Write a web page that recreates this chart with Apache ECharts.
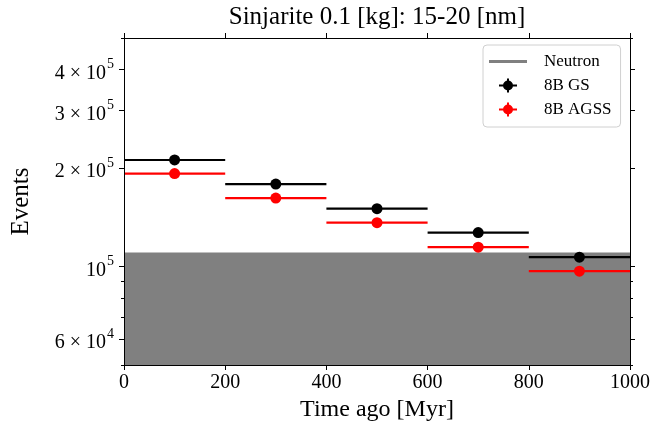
<!DOCTYPE html>
<html><head><meta charset="utf-8">
<script src="https://cdn.jsdelivr.net/npm/echarts@6/dist/echarts.min.js"></script>
<style>html,body{margin:0;padding:0;background:#fff}#c{width:668px;height:432px}</style>
</head><body><div id="c"></div>
<script>
// ---- data ----
const titleText = 'Sinjarite 0.1 [kg]: 15-20 [nm]';
const binCenters = [100, 300, 500, 700, 900];
const binHalfWidth = 100;
const gsEvents = [211800, 178700, 150300, 127000, 106800];
const agssEvents = [192500, 162000, 136200, 114600, 96800];
const neutronLevel = 110400;
const xRange = [0, 1000];
const xTickStep = 200;
const yRange = [50000, 500000];
const yLabelTicks = [60000, 100000, 200000, 300000, 400000];
const yMinorTicks = [50000, 70000, 80000, 90000, 500000];

const FONT = 'Liberation Serif';

function supLabel(v) {
  const e = Math.floor(Math.log10(v) + 1e-9);
  const m = Math.round(v / Math.pow(10, e));
  return (m === 1 ? '{a|10}' : '{a|' + m + ' \u00d7 10}') + '{b|' + e + '}';
}

function makeRenderer(color) {
  return function (params, api) {
    const x = api.value(0), y = api.value(1);
    const p0 = api.coord([x - binHalfWidth, y]);
    const p1 = api.coord([x + binHalfWidth, y]);
    const c = api.coord([x, y]);
    return {
      type: 'group',
      children: [
        { type: 'line', shape: { x1: p0[0], y1: p0[1], x2: p1[0], y2: p1[1] }, style: { stroke: color, lineWidth: 2.2 } },
        { type: 'circle', shape: { cx: c[0], cy: c[1], r: 5.5 }, style: { fill: color } }
      ]
    };
  };
}

const neutronIcon = 'path://M0,0L0,0M50,16L50,16M0,6.5L38,6.5L38,9.5L0,9.5Z';
const ebIcon = 'path://M0,0L0,0M50,16L50,16M10,7L28,7L28,9L10,9ZM18,1L20,1L20,15L18,15ZM24,8A5,5,0,1,1,14,8A5,5,0,1,1,24,8Z';

const axisLineStyle = { show: true, lineStyle: { color: '#000', width: 1 } };

const chart = echarts.init(document.getElementById('c'), null, { renderer: 'canvas' });
chart.setOption({
  animation: false,
  backgroundColor: '#fff',
  grid: { left: 124, right: 38, top: 37, bottom: 67, containLabel: false },
  legend: {
    orient: 'vertical', left: 483, top: 45,
    backgroundColor: '#fff', borderColor: '#d0d0d0', borderWidth: 1, borderRadius: 4,
    padding: [8, 9, 9, 6], itemGap: 7, itemWidth: 50, itemHeight: 16,
    textStyle: { fontFamily: FONT, fontSize: 17, color: '#000' },
    data: [
      { name: 'Neutron', icon: neutronIcon },
      { name: '8B GS', icon: ebIcon },
      { name: '8B AGSS', icon: ebIcon }
    ]
  },
  xAxis: [
    {
      type: 'value', position: 'bottom', min: xRange[0], max: xRange[1], interval: xTickStep,
      axisLine: axisLineStyle, splitLine: { show: false }, z: 10,
      axisTick: { show: true, inside: false, length: 5, lineStyle: { color: '#000' } },
      axisLabel: { fontFamily: FONT, fontSize: 20, color: '#000', margin: 8, formatter: v => String(v) },
      name: 'Time ago [Myr]', nameLocation: 'middle', nameGap: 32,
      nameTextStyle: { fontFamily: FONT, fontSize: 24, color: '#000' }
    },
    {
      type: 'value', position: 'top', min: xRange[0], max: xRange[1], interval: xTickStep,
      axisLine: axisLineStyle, splitLine: { show: false }, z: 10,
      axisTick: { show: true, inside: false, length: 5, lineStyle: { color: '#000' } },
      axisLabel: { show: false },
      name: titleText, nameLocation: 'middle', nameGap: 8,
      nameTextStyle: { fontFamily: FONT, fontSize: 25, color: '#000', verticalAlign: 'bottom' }
    }
  ],
  yAxis: [
    {
      type: 'log', position: 'left', min: yRange[0], max: yRange[1], logBase: 10,
      axisLine: axisLineStyle, splitLine: { show: false }, minorTick: { show: false }, z: 10,
      axisTick: { show: true, length: 5, customValues: yLabelTicks, lineStyle: { color: '#000' } },
      axisLabel: {
        customValues: yLabelTicks, margin: 10, color: '#000',
        formatter: v => supLabel(v),
        rich: {
          a: { fontFamily: FONT, fontSize: 20, color: '#000', lineHeight: 28, verticalAlign: 'bottom' },
          b: { fontFamily: FONT, fontSize: 14, color: '#000', lineHeight: 28, verticalAlign: 'top', padding: [2, 0, 0, 1] }
        }
      },
      name: 'Events', nameLocation: 'middle', nameGap: 90, nameRotate: 90,
      nameTextStyle: { fontFamily: FONT, fontSize: 25, color: '#000' }
    },
    {
      type: 'log', position: 'left', min: yRange[0], max: yRange[1], logBase: 10,
      axisLine: { show: false }, splitLine: { show: false }, z: 10,
      axisTick: { show: true, length: 3, customValues: yMinorTicks, lineStyle: { color: '#000' } },
      axisLabel: { show: false }
    },
    {
      type: 'log', position: 'right', min: yRange[0], max: yRange[1], logBase: 10,
      axisLine: axisLineStyle, splitLine: { show: false }, z: 10,
      axisTick: { show: true, length: 5, customValues: yLabelTicks, lineStyle: { color: '#000' } },
      axisLabel: { show: false }
    },
    {
      type: 'log', position: 'right', min: yRange[0], max: yRange[1], logBase: 10,
      axisLine: { show: false }, splitLine: { show: false }, z: 10,
      axisTick: { show: true, length: 3, customValues: yMinorTicks, lineStyle: { color: '#000' } },
      axisLabel: { show: false }
    }
  ],
  series: [
    {
      name: 'Neutron', type: 'line', xAxisIndex: 0, yAxisIndex: 0,
      data: [[xRange[0], neutronLevel], [xRange[1], neutronLevel]],
      symbol: 'none', color: '#808080',
      lineStyle: { width: 0, color: '#808080' },
      areaStyle: { color: '#808080', opacity: 1, origin: 'start' },
      z: 1, silent: true
    },
    {
      name: '8B GS', type: 'custom', xAxisIndex: 0, yAxisIndex: 0,
      data: binCenters.map((x, i) => [x, gsEvents[i]]),
      encode: { x: 0, y: 1 }, itemStyle: { color: '#000' },
      renderItem: makeRenderer('#000'), z: 3
    },
    {
      name: '8B AGSS', type: 'custom', xAxisIndex: 0, yAxisIndex: 0,
      data: binCenters.map((x, i) => [x, agssEvents[i]]),
      encode: { x: 0, y: 1 }, itemStyle: { color: '#ff0000' },
      renderItem: makeRenderer('#ff0000'), z: 3
    }
  ]
});
</script>
</body></html>
